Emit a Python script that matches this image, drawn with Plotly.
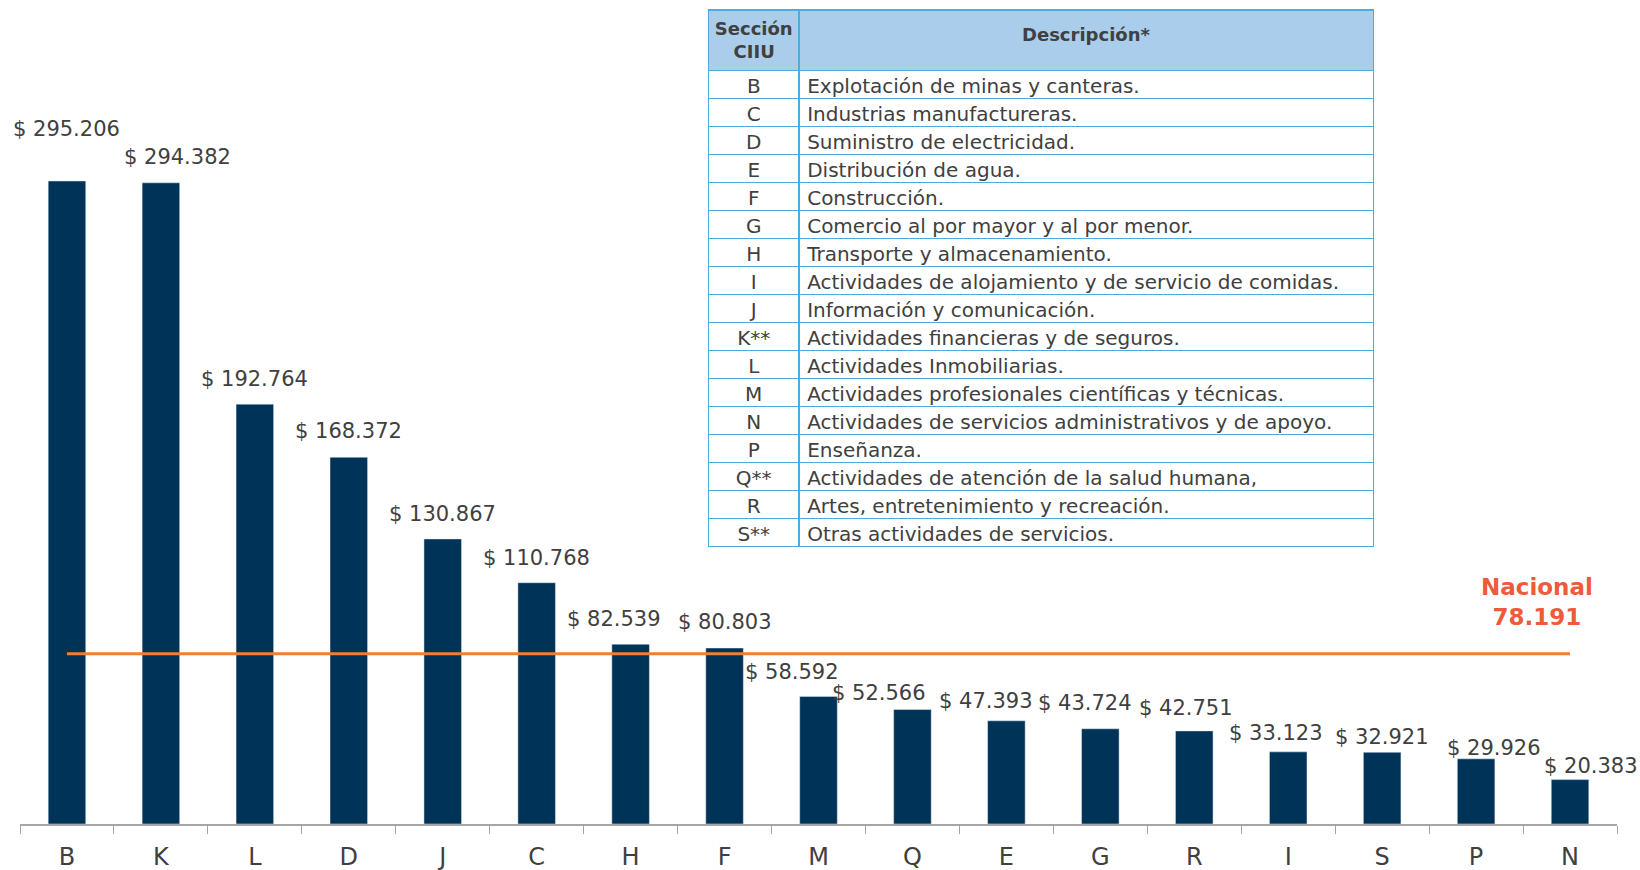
import plotly.graph_objects as go

categories = ["B", "K", "L", "D", "J", "C", "H", "F", "M", "Q", "E", "G", "R", "I", "S", "P", "N"]
values = [295206, 294382, 192764, 168372, 130867, 110768, 82539, 80803, 58592,
          52566, 47393, 43724, 42751, 33123, 32921, 29926, 20383]
value_labels = ["$ 295.206", "$ 294.382", "$ 192.764", "$ 168.372", "$ 130.867", "$ 110.768",
                "$ 82.539", "$ 80.803", "$ 58.592", "$ 52.566", "$ 47.393", "$ 43.724",
                "$ 42.751", "$ 33.123", "$ 32.921", "$ 29.926", "$ 20.383"]
nacional = 78191
nacional_label = "Nacional<br>78.191"

table_codes = ["B", "C", "D", "E", "F", "G", "H", "I", "J", "K**", "L", "M", "N", "P", "Q**", "R", "S**"]
table_desc = [
    "Explotación de minas y canteras.",
    "Industrias manufactureras.",
    "Suministro de electricidad.",
    "Distribución de agua.",
    "Construcción.",
    "Comercio al por mayor y al por menor.",
    "Transporte y almacenamiento.",
    "Actividades de alojamiento y de servicio de comidas.",
    "Información y comunicación.",
    "Actividades financieras y de seguros.",
    "Actividades Inmobiliarias.",
    "Actividades profesionales científicas y técnicas.",
    "Actividades de servicios administrativos y de apoyo.",
    "Enseñanza.",
    "Actividades de atención de la salud humana,",
    "Artes, entretenimiento y recreación.",
    "Otras actividades de servicios.",
]
table_header = ["<b>Sección<br>\u00a0\u00a0\u00a0CIIU</b>", "<b><br>Descripción*</b>"]

# label offsets (pixels) relative to the top of each bar
label_dx = [0, 17, 0, 0, 0, 0, -17, 0, -27, -33, -20, -15, -8, -12, 0, 18, 21]
label_dy = [52, 26, 25, 26, 25, 25, 25, 26, 24, 17, 20, 26, 23, 19, 15, 11, 14]

FONT = "Century Gothic, DejaVu Sans, sans-serif"
TXT = "#404040"

fig = go.Figure()
fig.add_trace(go.Bar(x=categories, y=values, marker=dict(color="#003358"),
                     hoverinfo="skip", showlegend=False))
fig.add_trace(go.Scatter(x=categories, y=[nacional] * len(categories), mode="lines",
                         line=dict(color="#F07F32", width=3), hoverinfo="skip",
                         showlegend=False))

for c, v, t, dx, dy in zip(categories, values, value_labels, label_dx, label_dy):
    fig.add_annotation(x=c, y=v, text=t, showarrow=False, xshift=dx, yshift=dy,
                       font=dict(family=FONT, size=21, color=TXT))

fig.add_annotation(x=categories[-1], y=nacional, text="<b>" + nacional_label + "</b>",
                   showarrow=False, xshift=-33, yshift=52,
                   font=dict(family=FONT, size=23, color="#F05A3C"))

fig.add_trace(go.Table(
    domain=dict(x=[0.431, 0.848], y=[0.3, 0.988]),
    columnwidth=[91, 575],
    header=dict(values=table_header, fill_color="#A9CDEB",
                line=dict(color="#4BACE0", width=1.5),
                align="center", height=46,
                font=dict(family=FONT, size=18, color=TXT)),
    cells=dict(values=[table_codes, table_desc], fill_color="white",
               line=dict(color="#4BACE0", width=1.5),
               align=["center", "left"], height=28,
               font=dict(family=FONT, size=20, color=TXT)),
))

fig.update_layout(
    width=1640, height=870,
    margin=dict(l=20, r=23, t=0, b=46),
    paper_bgcolor="white", plot_bgcolor="white",
    bargap=0.6,
    font=dict(family=FONT, color=TXT),
    xaxis=dict(range=[-0.5, len(categories) - 0.5], autorange=False,
               showline=True, linecolor="#A6A6A6", linewidth=1.5,
               ticks="outside", tickson="boundaries", tickcolor="#A6A6A6",
               ticklen=8, ticklabelstandoff=10,
               tickfont=dict(family=FONT, size=24, color=TXT),
               showgrid=False, fixedrange=True),
    yaxis=dict(range=[0, 378300], visible=False, showgrid=False, fixedrange=True),
)

fig.write_html("out.html", config={"displayModeBar": False},
               post_script="document.body.style.margin='0';document.body.style.overflow='hidden';")
